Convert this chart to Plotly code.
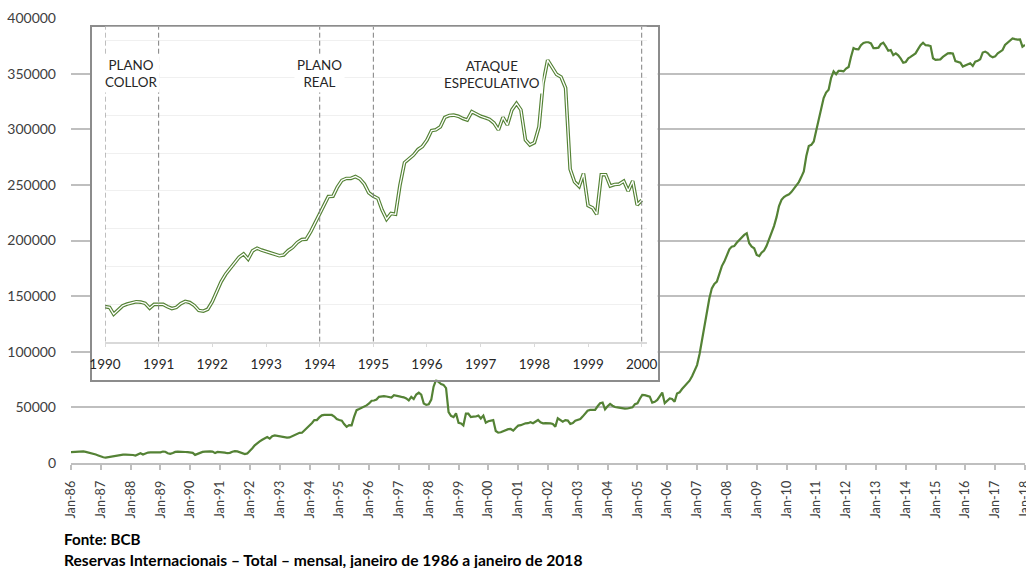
import plotly.graph_objects as go
import pandas as pd

# ---------------- DATA (US$ milhões, mensal) ----------------
meses = pd.date_range("1986-01-01", "2018-01-01", freq="MS")

r1986 = [9800, 10000, 10200, 10400, 10600, 10400, 10000, 9500, 8800, 8200, 7600, 6800]
r1987 = [5800, 5200, 4900, 5300, 5800, 6400, 6900, 7300, 7400, 7500, 7500, 7600]
r1988 = [7500, 7200, 6700, 7800, 8800, 7600, 8600, 9400, 9500, 9600, 9500, 9400]
r1989 = [9600, 10300, 10100, 8800, 8200, 9000, 10000, 10200, 10300, 10100, 9900, 9700]
r1990 = [9300, 9100, 7300, 8400, 9500, 10000, 10300, 10600, 10500, 10200, 8900, 9900]
r1991 = [9900, 9900, 9300, 8800, 9100, 10100, 10700, 10400, 9600, 8300, 8100, 8600]
r1992 = [10600, 13300, 15900, 17900, 19400, 20900, 22400, 23300, 21900, 24100, 24800, 24300]
r1993 = [23900, 23600, 23100, 22800, 23000, 24200, 25000, 26300, 27100, 27200, 29200, 31500]
r1994 = [33800, 36000, 38500, 38600, 41000, 42800, 43300, 43300, 43800, 43200, 41800, 39500]
r1995 = [38600, 38000, 35000, 32500, 34000, 33800, 41500, 47500, 48500, 49500, 51000, 51800]
r1996 = [53500, 56000, 56200, 57000, 59500, 60000, 60100, 59800, 59200, 58800, 61000, 60300]
r1997 = [59800, 59400, 59000, 58000, 56200, 59500, 57500, 61500, 63200, 61500, 53500, 52200]
r1998 = [52800, 57000, 68600, 74700, 72800, 70900, 70200, 67300, 45800, 42400, 41200, 44600]
r1999 = [36100, 35500, 33800, 44300, 44300, 41300, 41700, 41800, 42600, 40000, 42600, 36300]
r2000 = [37500, 38200, 38600, 28800, 27300, 27600, 28700, 29800, 30400, 30600, 29100, 31500]
r2001 = [33600, 34000, 34900, 35700, 35800, 36600, 35800, 37000, 38700, 36500, 35700, 35900]
r2002 = [36000, 35600, 35100, 32700, 40200, 38500, 37200, 38600, 38100, 35100, 36000, 38100]
r2003 = [38800, 39500, 41700, 44000, 47000, 47700, 47500, 47700, 51000, 53700, 54300, 48300]
r2004 = [51000, 53100, 51500, 50300, 50000, 49500, 49200, 48900, 49000, 49200, 50000, 52900]
r2005 = [53700, 58000, 61200, 61000, 60500, 59700, 54300, 55000, 56700, 60000, 63300, 53800]
r2006 = [56000, 58000, 57500, 55000, 62500, 63500, 66500, 69000, 71000, 74000, 78000, 83000]
r2007 = [88000, 98000, 110000, 125000, 138000, 148000, 157000, 161000, 163000, 169000, 177000, 181000]
r2008 = [186000, 192000, 194500, 195000, 198000, 200500, 203000, 205000, 206500, 197500, 194500, 193000]
r2009 = [187000, 186000, 189000, 191000, 195000, 201000, 207000, 213000, 221000, 231000, 236500, 239000]
r2010 = [240500, 241500, 243500, 246500, 249000, 252500, 257000, 262000, 276000, 285000, 286000, 289000]
r2011 = [299000, 310000, 318000, 328000, 333000, 335500, 346000, 352000, 349500, 352500, 352500, 352000]
r2012 = [354500, 356000, 365000, 373000, 372000, 371800, 375500, 377500, 378200, 378200, 377200, 373000]
r2013 = [373000, 373300, 376500, 377800, 374500, 370600, 371200, 366700, 368200, 366500, 363500, 359800]
r2014 = [360500, 363800, 365000, 366500, 368200, 372000, 375500, 377800, 375500, 375400, 374800, 363800]
r2015 = [362300, 362500, 362800, 365000, 367000, 368200, 368500, 368200, 361300, 360500, 359800, 356300]
r2016 = [357200, 358500, 359300, 356900, 360800, 361500, 362900, 368900, 369800, 368500, 365900, 364700]
r2017 = [365500, 368200, 369500, 371200, 375700, 378000, 380200, 381700, 381000, 380500, 380800, 374200]
r2018 = [375700]

reservas = (r1986 + r1987 + r1988 + r1989 + r1990 + r1991 + r1992 + r1993 + r1994 + r1995
            + r1996 + r1997 + r1998 + r1999 + r2000 + r2001 + r2002 + r2003 + r2004 + r2005
            + r2006 + r2007 + r2008 + r2009 + r2010 + r2011 + r2012 + r2013 + r2014 + r2015
            + r2016 + r2017 + r2018)
serie = pd.Series(reservas, index=meses)

# inset: 1990 - 2000
inset_serie = serie["1990-01-01":"2000-01-01"]

y_ticks = [0, 50000, 100000, 150000, 200000, 250000, 300000, 350000, 400000]
marcos = ["1990-01-01", "1991-01-01", "1994-01-01", "1995-01-01", "2000-01-01"]
eventos = ["PLANO<br>COLLOR", "PLANO<br>REAL", "ATAQUE<br>ESPECULATIVO"]
fonte = "Fonte: BCB"
titulo = "Reservas Internacionais – Total – mensal, janeiro de 1986 a janeiro de 2018"

# ---------------- LAYOUT HELPERS ----------------
W, H = 1026, 568
L, R, T, B = 71, 1025, 18, 463


def fx(px):
    return (px - L) / (R - L)


def fy(py):
    return (B - py) / (B - T)


GREEN = "#548235"
FONT = "Lato"
inset_ymax = (341.7 - 26.7) / 37.7 * 10000

fig = go.Figure()

# main series
fig.add_trace(go.Scatter(x=serie.index, y=serie.values, mode="lines",
                         line=dict(color=GREEN, width=2.2), showlegend=False,
                         hoverinfo="skip", xaxis="x", yaxis="y"))
# background panel subplot for inset box
fig.add_trace(go.Scatter(x=[], y=[], xaxis="x2", yaxis="y2", showlegend=False))
# inset double line
fig.add_trace(go.Scatter(x=inset_serie.index, y=inset_serie.values, mode="lines",
                         line=dict(color=GREEN, width=3.6), showlegend=False,
                         hoverinfo="skip", xaxis="x3", yaxis="y3"))
fig.add_trace(go.Scatter(x=inset_serie.index, y=inset_serie.values, mode="lines",
                         line=dict(color="white", width=1.3), showlegend=False,
                         hoverinfo="skip", xaxis="x3", yaxis="y3"))

shapes = [dict(type="rect", xref="x2", yref="y2", x0=0, x1=1, y0=0, y1=1,
               fillcolor="white", line=dict(width=0), layer="below")]
for m in marcos:
    shapes.append(dict(type="line", xref="x3", yref="y3", x0=m, x1=m, y0=0, y1=inset_ymax,
                       line=dict(color="#7f7f7f", width=1, dash="5px,3px"), layer="above"))

ann_pos = [(131, 74), (319, 74), (492, 74.5)]
annotations = []
for txt, (px, py) in zip(eventos, ann_pos):
    annotations.append(dict(text=txt, xref="paper", yref="paper", x=fx(px), y=fy(py),
                            xanchor="center", yanchor="middle", showarrow=False,
                            align="center", bgcolor="white", borderpad=2,
                            font=dict(family=FONT, size=13.4, color="#262626")))
annotations.append(dict(text="<b>" + fonte + "</b>", xref="paper", yref="paper",
                        x=fx(62), y=fy(539), xanchor="left", yanchor="middle", showarrow=False,
                        font=dict(family=FONT, size=15.2, color="black")))
annotations.append(dict(text="<b>" + titulo + "</b>", xref="paper", yref="paper",
                        x=fx(62), y=fy(559.5), xanchor="left", yanchor="middle", showarrow=False,
                        font=dict(family=FONT, size=15.6, color="black")))

fig.update_layout(
    width=W, height=H, autosize=False,
    margin=dict(l=L, r=W - R, t=T, b=H - B, pad=0, autoexpand=False),
    paper_bgcolor="white", plot_bgcolor="white",
    font=dict(family=FONT, color="#404040"),
    showlegend=False,
    hovermode=False,
    shapes=shapes,
    annotations=annotations,
    xaxis=dict(type="date", range=["1986-01-01", "2018-01-01"], dtick="M12", tick0="1986-01-01",
               tickformat="%b-%y", tickangle=-90, ticks="outside", ticklen=5,
               tickcolor="#bfbfbf", tickwidth=1.5, showline=True, linecolor="#bfbfbf",
               linewidth=1.5, showgrid=False, zeroline=False, ticklabelstandoff=6,
               ticklabeloverflow="allow", automargin=False,
               tickfont=dict(size=12.6, color="#404040"), anchor="y"),
    yaxis=dict(range=[0, 400000], tickvals=y_ticks, tickformat="d", showgrid=True,
               gridcolor="#bfbfbf", gridwidth=1.6, zeroline=False, showline=False, ticks="",
               ticklabelstandoff=14, automargin=False,
               tickfont=dict(size=14, color="#404040"), anchor="x"),
    xaxis2=dict(domain=[fx(92), fx(657.5)], range=[0, 1], anchor="y2", showgrid=False,
                zeroline=False, showticklabels=False, ticks="", showline=True, mirror=True,
                linecolor="#8c8c8c", linewidth=1.5, fixedrange=True),
    yaxis2=dict(domain=[fy(379.5), fy(26.7)], range=[0, 1], anchor="x2", showgrid=False,
                zeroline=False, showticklabels=False, ticks="", showline=True, mirror=True,
                linecolor="#8c8c8c", linewidth=1.5, fixedrange=True),
    xaxis3=dict(domain=[fx(105), fx(646.7)], type="date", range=["1990-01-01", "2000-02-04"],
                dtick="M12", tick0="1990-01-01", tickformat="%Y", ticks="outside", ticklen=4,
                tickcolor="#d9d9d9", showline=True, linecolor="#d9d9d9", linewidth=1.5,
                showgrid=False, zeroline=False, ticklabelstandoff=5, ticklabeloverflow="allow",
                automargin=False, tickfont=dict(size=13.5, color="#262626"), anchor="y3"),
    yaxis3=dict(domain=[fy(341.7), fy(26.7)], range=[0, inset_ymax], dtick=10000, tick0=0,
                showgrid=True, gridcolor="#f0f0f0", gridwidth=1, showticklabels=False,
                zeroline=False, showline=False, ticks="", anchor="x3"),
)

fig.write_html("out.html", config={"displayModeBar": False, "responsive": False},
               post_script="document.body.style.margin='0px';")
